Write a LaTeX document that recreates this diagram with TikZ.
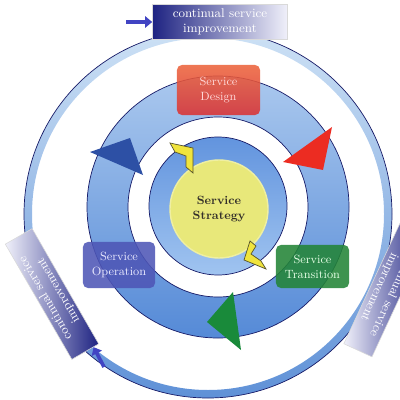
\documentclass[tikz,border=0pt]{standalone}
\usepackage{tikz}
\usetikzlibrary{arrows.meta, calc}

\definecolor{navy}{RGB}{30,35,130}
\definecolor{cbend}{RGB}{240,240,250}
\definecolor{ringtop}{RGB}{205,225,245}
\definecolor{ringbot}{RGB}{95,145,215}
\definecolor{midtop}{RGB}{170,200,238}
\definecolor{midbot}{RGB}{85,138,215}
\definecolor{inntop}{RGB}{98,148,222}
\definecolor{innbot}{RGB}{160,196,240}
\definecolor{strat}{RGB}{232,232,122}
\definecolor{designred}{RGB}{218,50,52}
\definecolor{designtop}{RGB}{236,100,60}
\definecolor{transgreen}{RGB}{35,132,55}
\definecolor{operblue}{RGB}{78,86,182}
\definecolor{tred}{RGB}{236,44,34}
\definecolor{tblue}{RGB}{45,80,165}
\definecolor{tgreen}{RGB}{25,138,58}
\definecolor{chevy}{RGB}{240,228,60}

\begin{document}
\begin{tikzpicture}[x=0.025cm, y=-0.025cm]

\tikzstyle{ringline}=[navy!80!black, line width=0.5pt]
\tikzstyle{phase}=[rounded corners=3.5pt, fill opacity=0.88, text opacity=1, align=center, inner sep=0pt, font=\fontsize{8.5}{10.6}\selectfont]
\tikzstyle{cbox}=[draw=black!15, text=white, align=center, inner sep=0pt, font=\fontsize{9}{10.6}\selectfont]
\tikzstyle{inarrow}=[navy!60!blue!80!white, line width=2.6pt, -{Triangle[length=5pt, width=8pt]}]
\tikzstyle{chev}=[fill=chevy, draw=olive!50!black, line width=0.5pt]

\useasboundingbox (0,0) rectangle (400,400);

% outer ring
\shade[top color=ringtop, bottom color=ringbot, even odd rule] (208,214) circle[radius=184] (208,214) circle[radius=176];
\draw[ringline] (208,214) circle[radius=184];

% middle ring
\shade[top color=midtop, bottom color=midbot, even odd rule] (218,207) circle[radius=131] (218,207) circle[radius=90];
\draw[ringline] (218,207) circle[radius=131];
\draw[ringline] (218,207) circle[radius=90];

% inner ring
\shade[top color=inntop, bottom color=innbot] (218,206) circle[radius=69];
\draw[ringline] (218,206) circle[radius=69];

\node[circle, fill=strat, draw=strat!70!white, line width=1pt, minimum size=2.45cm, inner sep=0pt, align=center,
      font=\fontsize{8.5}{10.6}\selectfont\bfseries, text=black!85!olive] (strategy) at (219,209) {Service\\Strategy};

% yellow chevrons
\draw[chev] (170,143) -- (193,148) -- (193,173) -- (186,167) -- (186,156) -- (175,152) -- cycle;
\draw[chev] (250,241) -- (244,260) -- (266,269) -- (261,261) -- (251,254) -- (256,246) -- cycle;

% big arrow heads on the ring
\fill[tred] (332,127) -- (283,162) -- (323,170) -- cycle;
\fill[tblue] (90,152) -- (130,138) -- (143,175) -- cycle;
\fill[tgreen] (233,292) -- (207,322) -- (241,350) -- cycle;

% phases
\node[phase, top color=designtop, middle color=designred, bottom color=designred, text=red!15!white, minimum width=2.075cm, minimum height=1.25cm] (design) at (218.5,90) {Service\\Design};
\node[phase, fill=transgreen, text=green!10!white, minimum width=1.825cm, minimum height=1.075cm] (transition) at (312.5,266.5) {Service\\Transition};
\node[phase, fill=operblue, text=blue!8!white, minimum width=1.8cm, minimum height=1.15cm] (operation) at (119,265) {Service\\Operation};

% continual service improvement
\node[cbox, left color=navy, right color=cbend, minimum width=3.375cm, minimum height=0.875cm] (cTop) at (220,22) {continual service\\improvement};
\node[cbox, left color=cbend, right color=navy, rotate=120, minimum width=3.325cm, minimum height=0.775cm] (cLeft) at (52,294) {continual service\\improvement};
\node[cbox, left color=cbend, right color=navy, rotate=245, minimum width=3.325cm, minimum height=0.775cm] (cRight) at (386,290) {continual service\\improvement};

\coordinate (inT) at (126,22);
\coordinate (inL) at (104,367);
\draw[inarrow] (inT) -- (cTop.west);
\draw[inarrow] (inL) -- ($(cLeft.west)!0.6!(cLeft.south west)$);

\end{tikzpicture}
\end{document}
